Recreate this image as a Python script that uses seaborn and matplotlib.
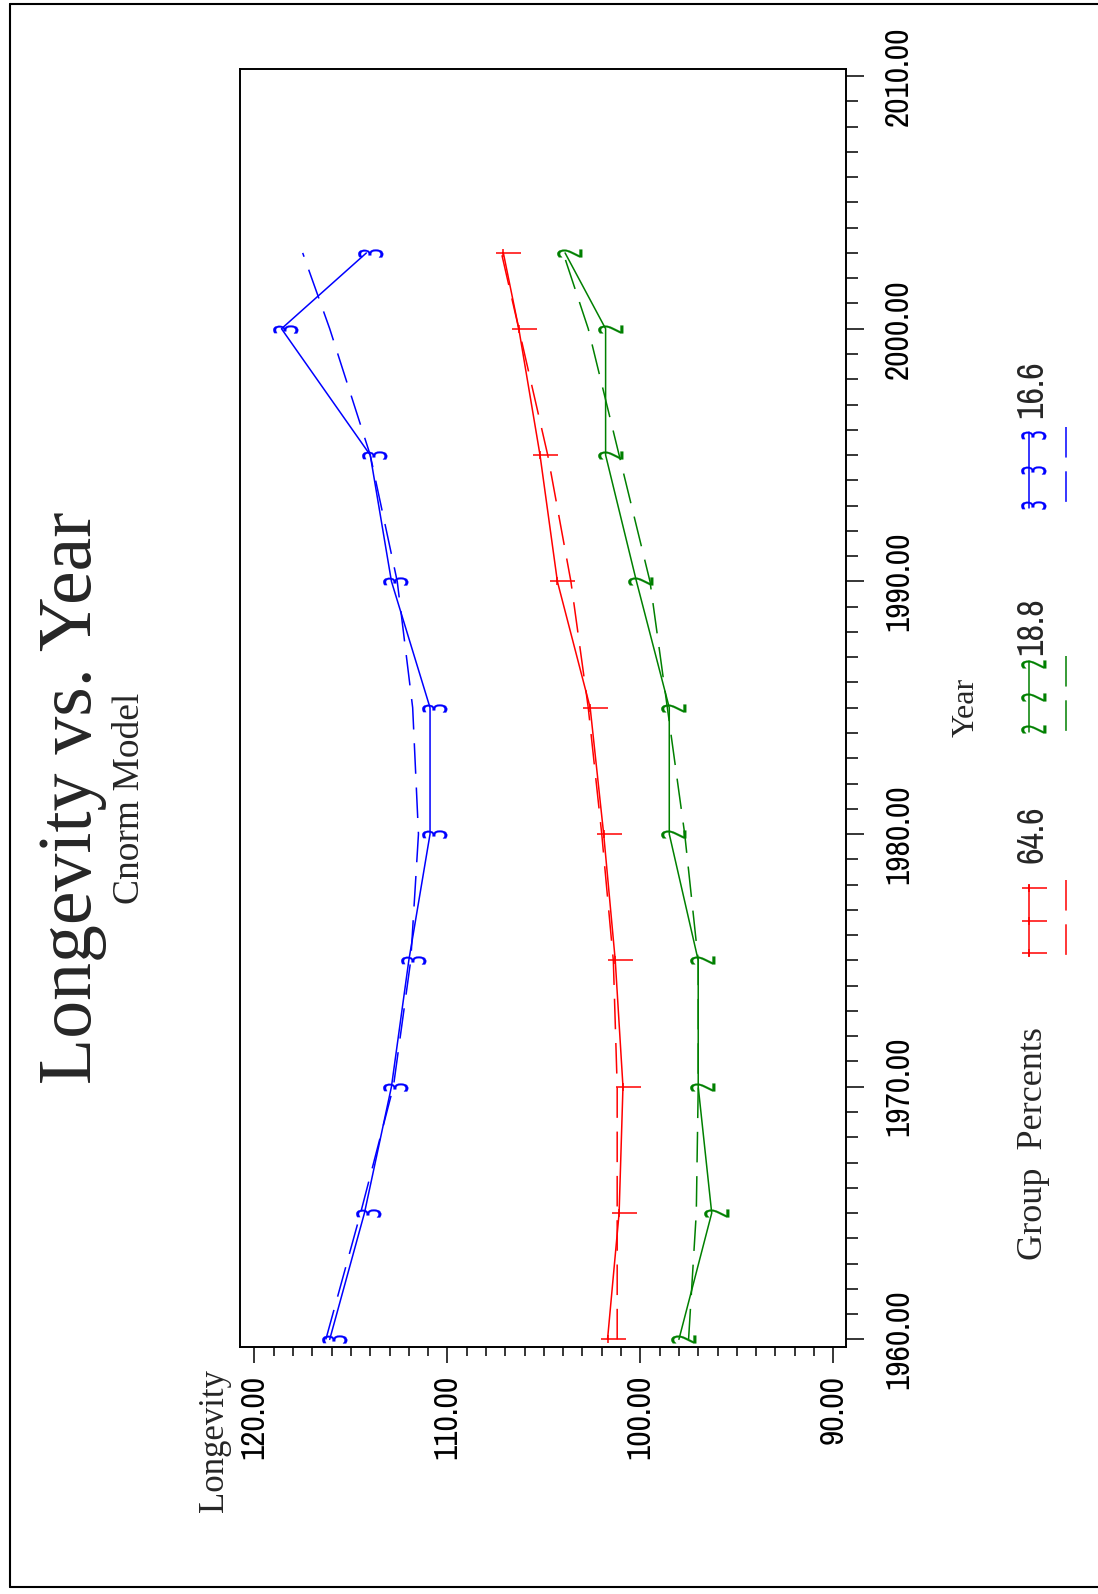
import matplotlib
matplotlib.use("Agg")
import matplotlib.pyplot as plt
import pandas as pd
import seaborn as sns
from matplotlib import font_manager
from matplotlib.font_manager import FontProperties
from matplotlib.markers import MarkerStyle
from matplotlib.path import Path
from matplotlib.transforms import Affine2D
from matplotlib.ticker import MultipleLocator, FormatStrFormatter

# ---- data ----------------------------------------------------------------
years = [1960, 1965, 1970, 1975, 1980, 1985, 1990, 1995, 2000, 2003]
groups = ["64.6", "18.8", "16.6"]

obs_646 = [101.7, 101.1, 100.9, 101.3, 101.9, 102.6, 104.3, 105.2, 106.3, 107.1]
obs_188 = [98.0, 96.3, 97.0, 97.0, 98.5, 98.5, 100.2, 101.8, 101.8, 103.9]
obs_166 = [116.1, 114.3, 112.9, 112.0, 110.9, 110.9, 112.9, 114.0, 118.6, 114.2]

fit_646 = [101.2, 101.2, 101.2, 101.4, 102.0, 102.7, 103.6, 104.8, 106.3, 107.2]
fit_188 = [97.5, 97.1, 97.0, 97.0, 97.7, 98.6, 99.5, 101.1, 102.7, 104.0]
fit_166 = [116.3, 114.5, 112.8, 111.9, 111.5, 111.8, 112.6, 114.0, 116.1, 117.5]

xticks_longevity = [90, 100, 110, 120]
yticks_year = [1960, 1970, 1980, 1990, 2000, 2010]

rows = []
for g, ob, ft in zip(groups, [obs_646, obs_188, obs_166], [fit_646, fit_188, fit_166]):
    for yr, o, f in zip(years, ob, ft):
        rows.append({"Group": g, "Year": yr, "Longevity": o, "Fitted": f})
df = pd.DataFrame(rows)

# ---- style ---------------------------------------------------------------
sns.set_theme(style="white")
SERIF = "Liberation Serif"
plt.rcParams["font.family"] = [SERIF, "DejaVu Serif"]


def narrow_font(size):
    """A condensed sans face for numbers, falling back to Liberation Sans."""
    regular = (400, "normal", "regular", "book")
    entries = font_manager.fontManager.ttflist
    for f in entries:
        if "Narrow" in f.name and f.style == "normal" and f.weight in regular:
            return FontProperties(fname=f.fname, size=size), True
    for f in entries:
        if (f.stretch in ("condensed", "semi-condensed") or "Condensed" in f.name) \
                and f.style == "normal" and f.weight in regular:
            return FontProperties(fname=f.fname, size=size), True
    return FontProperties(family="Liberation Sans", size=size - 2), False


TICKFONT, _ = narrow_font(24)
LEGFONT, _ = narrow_font(26)

colors = {"64.6": "#ff0000", "18.8": "#008000", "16.6": "#0000ff"}
DASH = (0, (20, 9))

# plus-like symbol, drawn in the rotated page orientation
plus_path = Path([(-6.7, 0), (18.3, 0), (0, -3.5), (0, 3.5)],
                 [Path.MOVETO, Path.LINETO, Path.MOVETO, Path.LINETO])
PLUS = MarkerStyle(plus_path)


def digit_marker(ch):
    tr = Affine2D().scale(0.5, 1.0).rotate_deg(90).translate(0.17, 0)
    return MarkerStyle(f"${ch}$", transform=tr)


marker_kw = {
    "64.6": dict(marker=PLUS, ms=26.4, mfc="none", mew=1.1),
    "18.8": dict(marker=digit_marker("2"), ms=18, mew=0.2),
    "16.6": dict(marker=digit_marker("3"), ms=18, mew=0.2),
}

W, H = 1098, 1594
fig = plt.figure(figsize=(W / 100, H / 100), dpi=100)
ax = fig.add_axes([240 / W, 1 - 1346.7 / H, (846 - 240) / W, (1346.7 - 69) / H])

for g in groups:
    sub = df[df["Group"] == g]
    c = colors[g]
    kw = dict(marker_kw[g])
    if g != "64.6":
        kw["mfc"] = c
    sns.lineplot(data=sub, x="Longevity", y="Year", sort=False, orient="y",
                 estimator=None, color=c, lw=1.1, mec=c, ax=ax, legend=False, **kw)
    sns.lineplot(data=sub, x="Fitted", y="Year", sort=False, orient="y",
                 estimator=None, color=c, lw=1.1, linestyle=DASH, ax=ax, legend=False)

ax.set_xlim(120.75, 89.34)
ax.set_ylim(1959.71, 2010.28)
ax.set_xticks(xticks_longevity)
ax.set_yticks(yticks_year)
ax.xaxis.set_minor_locator(MultipleLocator(1))
ax.yaxis.set_minor_locator(MultipleLocator(1))
ax.xaxis.set_major_formatter(FormatStrFormatter("%.2f"))
ax.yaxis.set_major_formatter(FormatStrFormatter("%.2f"))

for sp in ax.spines.values():
    sp.set_visible(True)
    sp.set_color("black")
    sp.set_linewidth(1.4)

ax.tick_params(axis="x", which="both", bottom=True, top=False, direction="out",
               width=1.1, color="black", labelcolor="black")
ax.tick_params(axis="x", which="major", length=11.5, pad=8.6)
ax.tick_params(axis="x", which="minor", length=6.5)
ax.tick_params(axis="y", which="both", left=False, right=True, labelleft=False,
               labelright=True, direction="out", width=1.1, color="black",
               labelcolor="black")
ax.tick_params(axis="y", which="major", length=13, pad=14.4)
ax.tick_params(axis="y", which="minor", length=8.6)

for lbl in ax.get_xticklabels():
    lbl.set_fontproperties(TICKFONT)
    lbl.set(rotation=90, ha="center", va="top")
for lbl in ax.get_yticklabels():
    lbl.set_fontproperties(TICKFONT)
    lbl.set(rotation=90, ha="left", va="center")

ax.yaxis.set_label_position("right")
ax.set_ylabel("Year", fontsize=23, family=SERIF, rotation=90, va="center", ha="center")
ax.yaxis.set_label_coords((966 - 240) / 606, 0.5)
ax.set_xlabel("Longevity", fontsize=25, family=SERIF, rotation=90, ha="center", va="bottom")
ax.xaxis.set_label_coords((215 - 240) / 606, (1346.7 - 1512) / 1277.7)

# titles
fig.text(73 / W, 1 - 798 / H, "Longevity vs. Year", rotation=90, ha="center",
         va="center", fontsize=54.5, family=SERIF)
fig.text(130 / W, 1 - 798 / H, "Cnorm Model", rotation=90, ha="center",
         va="center", fontsize=27, family=SERIF)

# page frame and legend, in page pixel coordinates
ov = fig.add_axes([0, 0, 1, 1])
ov.set_xlim(0, W)
ov.set_ylim(H, 0)
ov.axis("off")
ov.patch.set_visible(False)
ov.plot([10, 10], [4, 1587], color="black", lw=1.5, clip_on=False)
ov.plot([10, W], [4, 4], color="black", lw=1.5, clip_on=False)
ov.plot([10, W], [1587, 1587], color="black", lw=1.5, clip_on=False)

ov.text(1034, 1144, "Group  Percents", rotation=90, ha="center", va="center",
        fontsize=26, family=SERIF)
legend_rows = {"64.6": (885, 956, 834), "18.8": (661, 732, 626), "16.6": (432, 508, 389)}
for g in groups:
    y0, y1, ylab = legend_rows[g]
    c = colors[g]
    kw = dict(marker_kw[g])
    if g != "64.6":
        kw["mfc"] = c
    ov.plot([1029, 1029], [y0, y1], color=c, lw=1.1)
    ov.plot([1029] * 3, [y0 + 3, (y0 + y1) / 2, y1 - 3], color=c, lw=0, mec=c, **kw)
    ov.plot([1066, 1066], [y0 - 5, y1 + 5], color=c, lw=1.1, linestyle=DASH)
    ov.text(1032, ylab, g, rotation=90, ha="center", va="center",
            fontproperties=LEGFONT)

fig.savefig("out.png", dpi=100, facecolor="white")
